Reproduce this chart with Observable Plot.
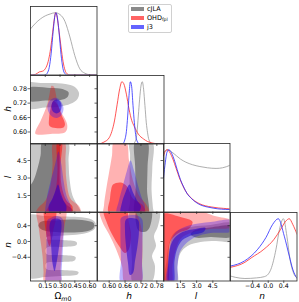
<!DOCTYPE html>
<html><head><meta charset="utf-8">
<script src="https://cdn.jsdelivr.net/npm/d3@7"></script>
<script src="https://cdn.jsdelivr.net/npm/@observablehq/plot@0.6"></script>
<style>
body{margin:0;background:#fff;}
#chart{position:relative;width:299px;height:302px;overflow:hidden;background:#fff;font-family:"DejaVu Sans",sans-serif;color:#000;}
.lbl{position:absolute;font-size:9px;white-space:nowrap;transform:translate(-50%,-50%);line-height:1;}
.rot{transform:translate(-50%,-50%) rotate(-90deg);}
.sub{font-size:70%;position:relative;top:0.35em;}
#legend{position:absolute;left:127.5px;top:3.5px;width:44px;height:29px;border:0.8px solid #d0d0d0;border-radius:2px;background:rgba(255,255,255,0.85);box-sizing:border-box;}
.lp{position:absolute;left:2.5px;width:13px;height:4.5px;}
.lt{position:absolute;left:18.5px;font-size:6.5px;line-height:1;transform:translateY(-50%);white-space:nowrap;}
.lt sub{font-size:70%;vertical-align:-0.25em;line-height:0;}
</style></head><body><div id="chart"></div>
<script>
// ---------- parameters, ticks, legend ----------
const paramNames = ["Ωm0", "h", "l", "n"];
const seriesNames = ["cJLA", "OHD<sub>fpl</sub>", "j3"];
const ticksOm = [0.15, 0.30, 0.45, 0.60];
const ticksH = [0.60, 0.66, 0.72, 0.78];
const ticksL = [1.5, 3.0, 4.5];
const ticksN = [-0.4, 0.0, 0.4];
const domOmX = [0, 0.675], domHX = [0.556, 0.807], domLX = [-0.07, 6.09], domNX = [-0.97, 0.74];
const domHY = [0.550, 0.835], domLY = [0.086, 5.96], domNY = [-1.0, 0.734];
const domP = [0, 1.1];

// ---------- 1D marginal densities [value, P/Pmax] ----------
const om_cJLA = [[0,0.74],[0.05,0.83],[0.10,0.90],[0.15,0.95],[0.20,0.98],[0.25,1.0],[0.30,0.97],[0.35,0.86],[0.40,0.61],[0.45,0.31],[0.50,0.10],[0.55,0.03],[0.60,0.005],[0.675,0]];
const om_OHD = [[0,0],[0.05,0.01],[0.09,0.05],[0.12,0.06],[0.15,0.10],[0.18,0.22],[0.20,0.38],[0.22,0.62],[0.24,0.88],[0.255,1.0],[0.27,0.93],[0.29,0.70],[0.31,0.45],[0.33,0.22],[0.35,0.08],[0.37,0.02],[0.40,0],[0.675,0]];
const om_j3 = [[0,0],[0.15,0],[0.17,0.03],[0.19,0.12],[0.21,0.35],[0.23,0.70],[0.25,0.97],[0.26,1.0],[0.27,0.95],[0.29,0.68],[0.31,0.33],[0.33,0.10],[0.35,0.02],[0.37,0],[0.675,0]];

const h_cJLA = [[0.556,0],[0.69,0],[0.70,0.06],[0.705,0.18],[0.71,0.45],[0.715,0.72],[0.72,0.93],[0.725,1.0],[0.73,0.88],[0.735,0.62],[0.74,0.35],[0.745,0.18],[0.75,0.07],[0.76,0.01],[0.77,0],[0.807,0]];
const h_OHD = [[0.556,0],[0.57,0.01],[0.58,0.03],[0.60,0.10],[0.61,0.20],[0.62,0.37],[0.63,0.63],[0.64,0.89],[0.648,1.0],[0.655,0.97],[0.665,0.80],[0.675,0.56],[0.685,0.38],[0.695,0.28],[0.71,0.16],[0.73,0.08],[0.745,0.04],[0.77,0.01],[0.80,0],[0.807,0]];
const h_j3 = [[0.556,0],[0.65,0],[0.66,0.08],[0.665,0.2],[0.67,0.45],[0.675,0.78],[0.68,1.0],[0.685,0.92],[0.69,0.62],[0.695,0.35],[0.70,0.15],[0.705,0.05],[0.715,0],[0.807,0]];

const l_cJLA = [[-0.07,0.95],[0.3,1.0],[0.8,0.95],[1.5,0.85],[2.0,0.80],[2.6,0.76],[3.3,0.73],[4.0,0.71],[4.8,0.70],[5.4,0.71],[6.09,0.75]];
const l_OHD = [[-0.07,0.90],[0.15,0.99],[0.3,1.0],[0.5,0.96],[0.8,0.85],[1.1,0.70],[1.4,0.55],[1.7,0.43],[2.0,0.33],[2.4,0.24],[2.8,0.18],[3.3,0.13],[3.8,0.10],[4.4,0.08],[5.0,0.065],[5.5,0.058],[6.09,0.05]];
const l_j3 = [[-0.07,0.55],[0.1,0.80],[0.25,0.96],[0.42,1.0],[0.6,0.97],[0.9,0.85],[1.2,0.68],[1.5,0.52],[1.8,0.40],[2.1,0.30],[2.5,0.22],[2.9,0.16],[3.4,0.11],[4.0,0.08],[4.6,0.06],[5.3,0.045],[6.09,0.04]];

const n_cJLA = [[-0.97,0.08],[-0.85,0.06],[-0.6,0.04],[-0.3,0.05],[-0.1,0.07],[0.0,0.11],[0.07,0.19],[0.2,0.51],[0.29,0.83],[0.39,1.0],[0.48,0.72],[0.56,0.35],[0.65,0.13],[0.74,0.05]];
const n_OHD = [[-0.97,0.22],[-0.6,0.30],[-0.44,0.37],[-0.11,0.51],[0.15,0.67],[0.32,0.83],[0.45,0.96],[0.54,1.0],[0.63,0.91],[0.74,0.75]];
const n_j3 = [[-0.97,0.24],[-0.615,0.32],[-0.27,0.51],[-0.057,0.70],[0.115,0.91],[0.259,1.0],[0.413,0.72],[0.542,0.40],[0.63,0.19],[0.74,0.04]];

// ---------- 2D contours (68% / 95%) ----------
const omh_cJLA95 = [[-0.03,0.803],[0.10,0.804],[0.203,0.804],[0.355,0.800],[0.447,0.788],[0.492,0.763],[0.477,0.7375],[0.406,0.717],[0.305,0.706],[0.152,0.702],[-0.03,0.700]];
const omh_cJLA68 = [[-0.03,0.781],[0.203,0.783],[0.325,0.779],[0.386,0.765],[0.376,0.746],[0.305,0.733],[0.152,0.731],[-0.03,0.731]];
const omh_OHD95 = [[0.213,0.792],[0.234,0.790],[0.287,0.7035],[0.373,0.629],[0.355,0.600],[0.203,0.592],[0.051,0.592],[0.051,0.604],[0.102,0.646],[0.170,0.715],[0.203,0.779]];
const omh_OHD68 = [[0.234,0.729],[0.274,0.713],[0.315,0.671],[0.350,0.633],[0.335,0.619],[0.254,0.617],[0.193,0.625],[0.188,0.654],[0.203,0.696]];
const omh_j3_95 = [[0.254,0.742],[0.305,0.729],[0.335,0.700],[0.315,0.671],[0.264,0.658],[0.203,0.671],[0.172,0.700],[0.193,0.729]];
const omh_j3_68 = [[0.264,0.735],[0.300,0.727],[0.315,0.706],[0.300,0.685],[0.264,0.677],[0.228,0.685],[0.213,0.706],[0.228,0.727]];

const oml_cJLA95 = [[-0.03,6.1],[0.376,6.1],[0.386,4.50],[0.396,2.96],[0.426,1.50],[0.467,0.81],[0.508,0.21],[0.528,-0.1],[-0.03,-0.1]];
const oml_cJLA68 = [[0.122,6.1],[0.284,6.1],[0.294,4.50],[0.294,2.96],[0.305,1.50],[0.365,0.73],[0.426,0.30],[0.44,-0.1],[-0.03,-0.1],[-0.03,1.93],[0.030,2.78],[0.071,3.81],[0.102,4.93]];
const oml_OHD95 = [[0.234,6.1],[0.345,6.1],[0.355,4.50],[0.365,2.78],[0.406,1.24],[0.487,0.64],[0.508,0.30],[0.50,-0.1],[0.051,-0.1],[0.081,0.47],[0.152,1.07],[0.203,2.36],[0.223,4.07]];
const oml_OHD68 = [[0.274,6.1],[0.315,6.1],[0.305,4.07],[0.315,2.36],[0.365,1.07],[0.426,0.56],[0.406,-0.1],[0.152,-0.1],[0.203,0.81],[0.254,1.93],[0.274,3.64]];
const oml_j3_95 = [[0.284,5.27],[0.315,4.07],[0.335,2.78],[0.365,1.50],[0.406,0.64],[0.41,-0.1],[0.162,-0.1],[0.162,1.07],[0.193,2.36],[0.234,3.64],[0.264,4.67]];
const oml_j3_68 = [[0.279,2.44],[0.305,1.76],[0.335,1.07],[0.365,0.56],[0.345,-0.1],[0.203,-0.1],[0.183,0.56],[0.223,1.24],[0.254,1.93]];

const hl_cJLA95 = [[0.678,6.1],[0.762,6.1],[0.763,4],[0.760,2],[0.765,0.5],[0.766,-0.1],[0.676,-0.1],[0.679,1],[0.677,3],[0.679,5]];
const hl_cJLA68 = [[0.699,6.1],[0.744,6.1],[0.745,4],[0.743,2],[0.746,-0.1],[0.698,-0.1],[0.700,2],[0.698,4]];
const hl_OHD95 = [[0.6183,6.1],[0.6636,6.1],[0.675,4.50],[0.690,2.78],[0.7126,1.50],[0.7428,0.64],[0.7503,-0.1],[0.5805,-0.1],[0.5805,0.64],[0.588,1.93],[0.599,3.385],[0.6107,4.93]];
const hl_OHD68 = [[0.6145,2.44],[0.6447,2.61],[0.6673,2.27],[0.690,1.24],[0.7277,0.64],[0.7352,0.0],[0.599,0.0],[0.6032,1.24],[0.607,1.93]];
const hl_j3_95 = [[0.6805,4.50],[0.6937,3.64],[0.7088,2.36],[0.7239,1.24],[0.7352,0.56],[0.7277,-0.1],[0.6296,-0.1],[0.6371,1.07],[0.6522,2.36],[0.6673,3.64]];
const hl_j3_68 = [[0.6768,2.44],[0.690,1.76],[0.705,1.07],[0.7201,0.56],[0.705,-0.1],[0.6447,-0.1],[0.6485,0.90],[0.6598,1.67]];

const omn_cJLA95 = [[-0.03,0.65],[0.152,0.646],[0.325,0.633],[0.487,0.620],[0.609,0.570],[0.660,0.468],[0.650,0.316],[0.569,0.215],[0.426,0.165],[0.254,0.139],[0.162,0.114],[0.162,0.063],[0.325,0.038],[0.467,-0.013],[0.467,-0.089],[0.325,-0.139],[0.162,-0.165],[0.162,-0.316],[0.325,-0.342],[0.457,-0.392],[0.447,-0.481],[0.305,-0.519],[0.162,-0.544],[0.162,-0.696],[0.325,-0.722],[0.487,-0.772],[0.477,-0.835],[0.305,-0.873],[0.152,-0.899],[-0.03,-0.899]];
const omn_cJLA68 = [[0.102,0.494],[0.254,0.532],[0.406,0.557],[0.558,0.532],[0.640,0.468],[0.640,0.342],[0.558,0.253],[0.406,0.228],[0.254,0.241],[0.122,0.291],[0.081,0.392]];
const omn_OHD95 = [[0.071,0.8],[0.355,0.8],[0.345,0.392],[0.325,0.013],[0.315,-0.367],[0.305,-0.747],[0.305,-1.05],[0.142,-1.05],[0.132,-0.747],[0.122,-0.367],[0.102,0.013],[0.081,0.392]];
const omn_OHD68 = [[0.142,0.8],[0.254,0.8],[0.254,0.519],[0.234,0.316],[0.213,0.013],[0.193,-0.114],[0.173,0.013],[0.152,0.316],[0.142,0.519]];
const omn_j3_95 = [[0.203,0.595],[0.254,0.646],[0.305,0.620],[0.335,0.519],[0.335,0.139],[0.325,-0.367],[0.315,-0.747],[0.305,-1.05],[0.162,-1.05],[0.162,-0.620],[0.162,0.013],[0.162,0.392],[0.173,0.544]];
const omn_j3_68 = [[0.254,0.582],[0.305,0.544],[0.315,0.392],[0.305,0.139],[0.284,-0.241],[0.264,-0.544],[0.244,-0.747],[0.223,-0.544],[0.213,-0.241],[0.203,0.139],[0.193,0.392],[0.213,0.544]];

const hn_cJLA95 = [[0.6824,0.8],[0.7881,0.8],[0.7843,0.392],[0.7692,0.139],[0.7768,-0.114],[0.7617,-0.367],[0.773,-0.620],[0.7579,-1.05],[0.690,-1.05],[0.6862,-0.494],[0.6824,0.013]];
const hn_cJLA68 = [[0.705,0.8],[0.7579,0.8],[0.7579,0.468],[0.7428,0.266],[0.7126,0.266],[0.7013,0.468]];
const hn_OHD95 = [[0.5654,0.8],[0.690,0.8],[0.7201,0.392],[0.7258,-0.114],[0.7239,-0.620],[0.7201,-1.05],[0.6598,-1.05],[0.6485,-0.620],[0.6258,-0.190],[0.599,0.190],[0.573,0.519]];
const hn_OHD68 = [[0.5805,0.8],[0.6636,0.8],[0.6749,0.468],[0.6824,0.139],[0.6749,-0.190],[0.6598,-0.291],[0.6371,-0.114],[0.6145,0.139],[0.5918,0.468]];
const hn_j3_95 = [[0.6447,0.595],[0.6673,0.658],[0.705,0.658],[0.7239,0.570],[0.7258,0.013],[0.7239,-0.494],[0.7201,-1.05],[0.6447,-1.05],[0.6447,-0.494],[0.6428,0.013],[0.6428,0.392]];
const hn_j3_68 = [[0.6636,0.557],[0.6862,0.595],[0.7088,0.544],[0.7126,0.266],[0.7069,-0.114],[0.6975,-0.494],[0.690,-0.797],[0.6786,-0.848],[0.6711,-0.544],[0.6636,-0.114],[0.6598,0.266]];

const ln_cJLA95 = [[6.3,0.456],[4.282,0.418],[2.43,0.367],[1.319,0.291],[0.763,0.165],[0.393,-0.114],[0.208,-0.494],[0.05,-1.05],[1.2,-1.05],[1.226,-0.620],[1.504,-0.291],[2.152,-0.114],[3.356,-0.013],[4.745,0.013],[6.3,0.013]];
const ln_cJLA68 = [[6.3,0.38],[4.282,0.354],[2.893,0.291],[2.43,0.190],[2.893,0.101],[4.282,0.114],[6.3,0.127]];
const ln_OHD95 = [[-0.3,0.8],[3.0,0.8],[4.5,0.66],[6.3,0.52],[6.3,0.36],[4.282,0.316],[2.43,0.215],[1.504,0.063],[1.041,-0.241],[0.763,-0.620],[0.671,-1.05],[-0.3,-1.05]];
const ln_OHD68 = [[-0.3,0.68],[1.504,0.62],[2.615,0.50],[2.245,0.316],[1.319,0.215],[0.578,0.013],[0.393,-0.367],[0.30,-1.05],[-0.3,-1.05]];
const ln_j3_95 = [[6.3,0.532],[4.282,0.494],[2.43,0.418],[1.319,0.291],[0.763,0.114],[0.486,-0.190],[0.30,-0.620],[0.208,-1.05],[1.134,-1.05],[1.226,-0.620],[1.411,-0.291],[1.967,-0.063],[2.893,0.114],[4.282,0.215],[6.3,0.266]];
const ln_j3_68 = [[0.393,-1.05],[0.393,-0.494],[0.578,-0.114],[0.949,0.089],[1.689,0.241],[2.893,0.316],[3.819,0.342],[3.634,0.241],[2.615,0.165],[1.689,0.038],[1.226,-0.165],[0.949,-0.494],[0.856,-1.05]];

// ---------- layout & style ----------
const colX = [30, 96.5, 163, 229.5], rowY = [6, 74.5, 143, 211.5], PW = 66.5, PH = 68.5;
const xDom = [domOmX, domHX, domLX, domNX], yDom = [null, domHY, domLY, domNY];
const xTicks = [ticksOm, ticksH, ticksL, ticksN], yTicks = [null, ticksH, ticksL, ticksN];
const f2 = d3.format(".2f"), f1 = d3.format(".1f");
const xFmt = [f2, f2, f1, f1], yFmt = [null, f2, f1, f1];
const lineCol = ["#999999", "#ff2a2a", "#2a2aff"];
const chart = document.getElementById("chart");
const baseStyle = {background: "transparent", overflow: "visible", fontFamily: "DejaVu Sans, sans-serif", fontSize: "6.3px", color: "#000"};

function place(svg, c, r) {
  svg.style.position = "absolute";
  svg.style.left = colX[c] + "px";
  svg.style.top = rowY[r] + "px";
  svg.style.overflow = "visible";
  chart.appendChild(svg);
}
function shape(pts, fill, op) {
  return Plot.line(pts, {x: d => d[0], y: d => d[1], fill, fillOpacity: op, stroke: "none", curve: "catmull-rom-closed", clip: true});
}
function contourMarks(s) {
  return [
    shape(s[0], "#c8c8c8", 1), shape(s[1], "#808080", 1),
    shape(s[2], "#ff0000", 0.3), shape(s[3], "#ff0000", 0.5),
    shape(s[4], "#2000ff", 0.3), shape(s[5], "#2000d0", 0.55)
  ];
}
function curveMarks(s) {
  return s.map((d, i) => Plot.line(d, {x: v => v[0], y: v => v[1], stroke: lineCol[i], strokeWidth: 0.8, curve: "monotone-x", clip: true}));
}

// content panels
const diag = [[om_cJLA, om_OHD, om_j3], [h_cJLA, h_OHD, h_j3], [l_cJLA, l_OHD, l_j3], [n_cJLA, n_OHD, n_j3]];
diag.forEach((s, i) => {
  place(Plot.plot({width: PW, height: PH, margin: 0, style: baseStyle,
    x: {domain: xDom[i], axis: null}, y: {domain: domP, axis: null},
    marks: curveMarks(s)}), i, i);
});
const pairs = [
  [1, 0, [omh_cJLA95, omh_cJLA68, omh_OHD95, omh_OHD68, omh_j3_95, omh_j3_68]],
  [2, 0, [oml_cJLA95, oml_cJLA68, oml_OHD95, oml_OHD68, oml_j3_95, oml_j3_68]],
  [2, 1, [hl_cJLA95, hl_cJLA68, hl_OHD95, hl_OHD68, hl_j3_95, hl_j3_68]],
  [3, 0, [omn_cJLA95, omn_cJLA68, omn_OHD95, omn_OHD68, omn_j3_95, omn_j3_68]],
  [3, 1, [hn_cJLA95, hn_cJLA68, hn_OHD95, hn_OHD68, hn_j3_95, hn_j3_68]],
  [3, 2, [ln_cJLA95, ln_cJLA68, ln_OHD95, ln_OHD68, ln_j3_95, ln_j3_68]]
];
pairs.forEach(([r, c, s]) => {
  place(Plot.plot({width: PW, height: PH, margin: 0, style: baseStyle,
    x: {domain: xDom[c], axis: null}, y: {domain: yDom[r], axis: null},
    marks: contourMarks(s)}), c, r);
});

// axes + frames overlay
for (let r = 0; r < 4; r++) for (let c = 0; c <= r; c++) {
  const marks = [
    Plot.frame({stroke: "#262626", strokeWidth: 0.8}),
    Plot.axisX({ticks: xTicks[c], anchor: "bottom", tickSize: 2.5, tickPadding: 0, tickFormat: r === 3 ? xFmt[c] : () => "", label: null, stroke: "#262626", strokeWidth: 0.7, fontSize: 6.3, fill: "#000"})
  ];
  if (r > 0) marks.push(Plot.axisY({ticks: yTicks[r], anchor: "left", tickSize: 2.5, tickPadding: 1, tickFormat: c === 0 ? yFmt[r] : () => "", label: null, stroke: "#262626", strokeWidth: 0.7, fontSize: 6.3, fill: "#000"}));
  place(Plot.plot({width: PW, height: PH, margin: 0, style: baseStyle,
    x: {domain: xDom[c]}, y: r > 0 ? {domain: yDom[r]} : {domain: domP, axis: null},
    marks}), c, r);
}

// axis labels
function label(html, x, y, rot) {
  const d = document.createElement("div");
  d.className = "lbl" + (rot ? " rot" : "");
  d.style.left = x + "px"; d.style.top = y + "px";
  d.innerHTML = html;
  chart.appendChild(d);
}
const labelHtml = ["Ω<span class='sub'><i>m</i>0</span>", "<i>h</i>", "<i>l</i>", "<i>n</i>"];
const bottomX = [63, 129, 196, 262];
labelHtml.forEach((h, i) => label(h, bottomX[i], 295.5, false));
const leftY = [null, 109, 177, 245];
[1, 2, 3].forEach(i => label(labelHtml[i], 8, leftY[i], true));

// legend
const legend = document.createElement("div");
legend.id = "legend";
const patch = ["#8a8a8a", "#ff6464", "#6464ff"];
const rowC = [4.5, 13.5, 22.5];
seriesNames.forEach((nm, i) => {
  const p = document.createElement("div");
  p.className = "lp"; p.style.top = (rowC[i] - 2.25) + "px"; p.style.background = patch[i];
  legend.appendChild(p);
  const t = document.createElement("div");
  t.className = "lt"; t.style.top = rowC[i] + "px"; t.innerHTML = nm;
  legend.appendChild(t);
});
chart.appendChild(legend);
</script></body></html>
